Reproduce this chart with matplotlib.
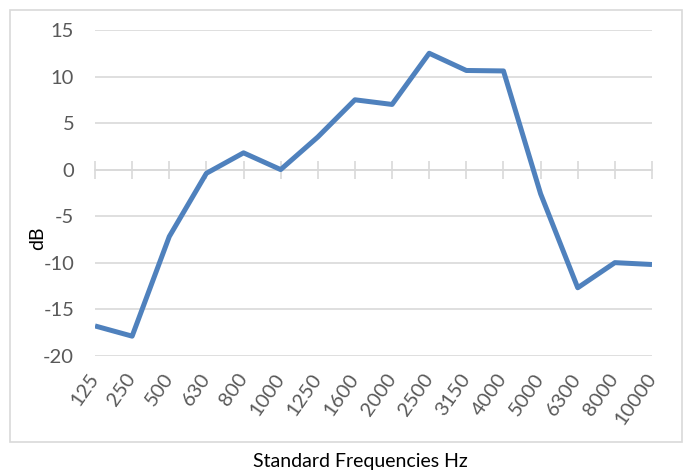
import matplotlib.pyplot as plt
from matplotlib.patches import Rectangle

# Standard frequency bands (Hz) and level difference (dB)
freqs = ['125', '250', '500', '630', '800', '1000', '1250', '1600',
         '2000', '2500', '3150', '4000', '5000', '6300', '8000', '10000']
db = [-16.8, -17.9, -7.2, -0.4, 1.8, 0.0, 3.5, 7.5,
      7.0, 12.5, 10.65, 10.6, -2.6, -12.7, -10.0, -10.2]
yticks = [-20, -15, -10, -5, 0, 5, 10, 15]

GRID = '#d9d9d9'
TICK_TXT = '#595959'
LINE = '#4f81bd'

plt.rcParams['font.family'] = ['Lato', 'DejaVu Sans']
plt.rcParams['axes.unicode_minus'] = False

fig = plt.figure(figsize=(6.87, 4.70), dpi=100)
ax = fig.add_axes([95 / 687, 1 - 355.7 / 470, 557 / 687, 325.7 / 470])

# outer chart border (stops above the x axis title, as in the original)
fig.patches.append(Rectangle((10 / 687, 1 - 442 / 470), 672 / 687, 432 / 470,
                             transform=fig.transFigure, fill=False,
                             edgecolor=GRID, linewidth=1.2))

x = list(range(len(freqs)))
ax.plot(x, db, color=LINE, linewidth=3.6, solid_joinstyle='round',
        solid_capstyle='butt', zorder=3)

ax.set_xlim(0, len(freqs) - 1)
ax.set_ylim(-20, 15)
ax.set_yticks(yticks)
ax.yaxis.grid(True, color=GRID, linewidth=1.2)
ax.set_axisbelow(True)
ax.tick_params(axis='y', length=0, pad=15, labelsize=14.5, labelcolor=TICK_TXT)

for s in ['left', 'right', 'top']:
    ax.spines[s].set_visible(False)

# category axis crosses at 0 with cross tick marks
ax.spines['bottom'].set_position(('data', 0))
ax.spines['bottom'].set_color(GRID)
ax.spines['bottom'].set_linewidth(1.2)
ax.set_xticks(x)
ax.tick_params(axis='x', direction='inout', length=13, width=1.2,
               color=GRID, labelbottom=False)

# labels sit low, under the plot area
sec = ax.secondary_xaxis(0.0)
sec.set_xticks(x)
sec.set_xticklabels(freqs, rotation=55, ha='right', va='center',
                    rotation_mode='anchor')
sec.tick_params(length=0, pad=14, labelsize=14.5, labelcolor=TICK_TXT)
sec.spines['bottom'].set_visible(False)

fig.text(38 / 687, 1 - 238 / 470, 'dB', rotation=90, ha='center',
         va='center', fontsize=14, color='black')
fig.text(360 / 687, 1 - 462 / 470, 'Standard Frequencies Hz', ha='center',
         va='center', fontsize=14, color='black')

fig.savefig('out.png', dpi=100)
